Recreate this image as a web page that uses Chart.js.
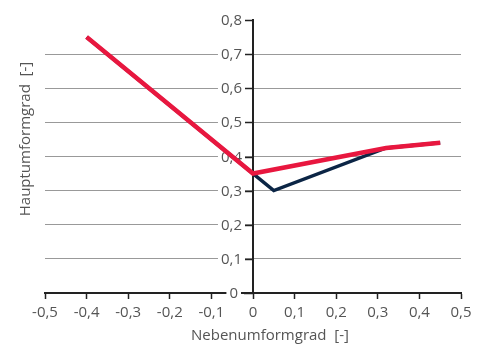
<!DOCTYPE html>
<html>
<head>
<meta charset="utf-8">
<script src="https://cdn.jsdelivr.net/npm/chart.js@4"></script>
<style>
  html, body { margin: 0; padding: 0; background: #fff; }
  #wrap { width: 486px; height: 345px; }
</style>
</head>
<body>
<div id="wrap"><canvas id="chart" width="486" height="345"></canvas></div>
<script>
// Werte
const redX = [-0.4, 0, 0.32, 0.45];
const redY = [0.75, 0.35, 0.425, 0.44];
const navyX = [-0.4, 0, 0.05, 0.32, 0.45];
const navyY = [0.75, 0.35, 0.30, 0.425, 0.44];
const xTicks = [-0.5, -0.4, -0.3, -0.2, -0.1, 0, 0.1, 0.2, 0.3, 0.4, 0.5];
const yTicks = [0, 0.1, 0.2, 0.3, 0.4, 0.5, 0.6, 0.7, 0.8];
const xTitle = 'Nebenumformgrad  [-]';
const yTitle = 'Hauptumformgrad  [-]';

const FONT = '"Open Sans", "Noto Sans", sans-serif';
const textColor = '#555';

function toPoints(xs, ys) {
  return xs.map((x, i) => ({ x: x, y: ys[i] }));
}

function fmt(v) {
  return String(Math.round(v * 10) / 10).replace('.', ',');
}

// y-Striche, y-Beschriftung (mit weissem Hintergrund) und Achsentitel
const extras = {
  id: 'extras',
  beforeDatasetsDraw(chart) {
    const ctx = chart.ctx;
    const xs = chart.scales.x;
    const ys = chart.scales.y;
    const x0 = xs.getPixelForValue(0);
    ctx.save();
    ctx.lineWidth = 1.5;
    ctx.font = '15px ' + FONT;
    ctx.textBaseline = 'middle';
    yTicks.forEach(v => {
      const py = Math.round(ys.getPixelForValue(v)) + 0.5;
      ctx.strokeStyle = '#222';
      ctx.beginPath();
      ctx.moveTo(x0 - 9, py);
      ctx.lineTo(x0, py);
      ctx.stroke();
      const label = fmt(v);
      const w = ctx.measureText(label).width;
      const right = v === 0 ? x0 - 15 : x0 - 11;
      ctx.fillStyle = '#fff';
      ctx.fillRect(right - w - 3, py - 8, w + 6, 16);
      ctx.fillStyle = textColor;
      ctx.textAlign = 'right';
      ctx.fillText(label, right, py);
    });
    ctx.fillStyle = textColor;
    ctx.textAlign = 'center';
    ctx.fillText(xTitle, 270, 336);
    ctx.translate(26, 139);
    ctx.rotate(-Math.PI / 2);
    ctx.fillText(yTitle, 0, 0);
    ctx.restore();
  }
};

new Chart(document.getElementById('chart'), {
  type: 'scatter',
  data: {
    datasets: [
      {
        label: 'rot',
        data: toPoints(redX, redY),
        showLine: true,
        borderColor: '#E8173F',
        borderWidth: 4.5,
        pointRadius: 0,
        fill: false
      },
      {
        label: 'blau',
        data: toPoints(navyX, navyY),
        showLine: true,
        borderColor: '#0B2545',
        borderWidth: 3.5,
        pointRadius: 0,
        fill: false
      }
    ]
  },
  options: {
    responsive: false,
    animation: false,
    layout: { padding: { left: 45, right: 25, top: 20, bottom: 0 } },
    plugins: {
      legend: { display: false },
      tooltip: { enabled: false }
    },
    scales: {
      x: {
        type: 'linear',
        position: 'bottom',
        min: -0.5,
        max: 0.5,
        afterBuildTicks: s => { s.ticks = xTicks.map(v => ({ value: v })); },
        afterFit: s => { s.height = 52; },
        border: { display: true, color: '#222', width: 2 },
        grid: {
          drawOnChartArea: false,
          drawTicks: true,
          tickLength: 6,
          tickColor: '#222',
          tickWidth: 1.5
        },
        ticks: {
          padding: 5,
          color: textColor,
          font: { family: FONT, size: 15 },
          callback: v => fmt(v)
        }
      },
      y: {
        type: 'linear',
        position: { x: 0 },
        min: 0,
        max: 0.8,
        afterBuildTicks: s => { s.ticks = yTicks.map(v => ({ value: v })); },
        border: { display: true, color: '#222', width: 2 },
        grid: {
          color: ctx => (ctx.tick && (ctx.tick.value === 0.8 || ctx.tick.value === 0)) ? 'rgba(0,0,0,0)' : '#999',
          lineWidth: 1,
          drawTicks: false
        },
        ticks: { display: false }
      }
    }
  },
  plugins: [extras]
});
</script>
</body>
</html>
